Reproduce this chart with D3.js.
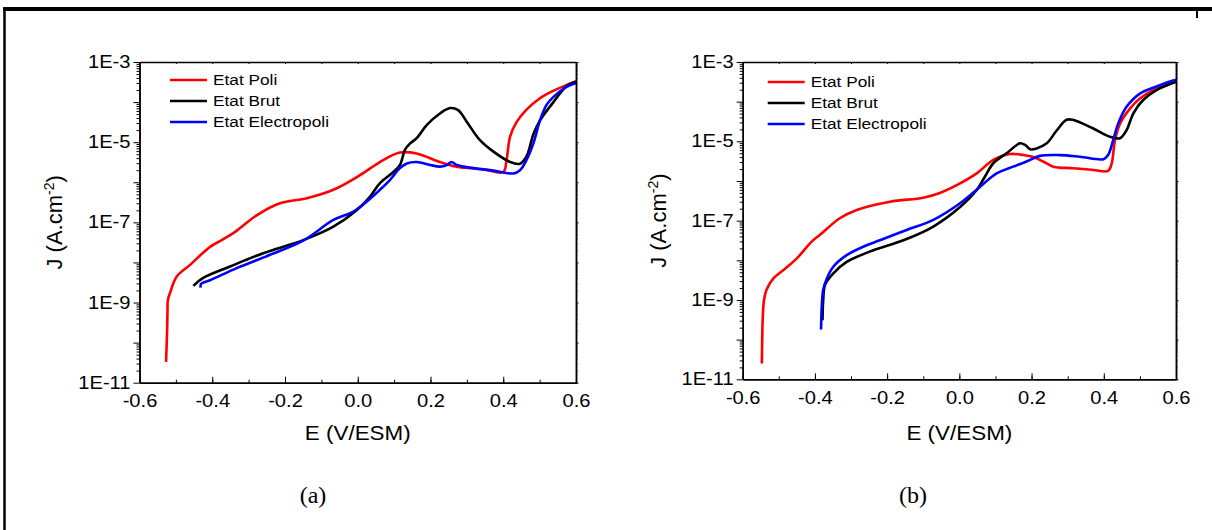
<!DOCTYPE html>
<html>
<head>
<meta charset="utf-8">
<script src="https://cdn.jsdelivr.net/npm/d3@7"></script>
<style>
  body { margin: 0; background: #fff; }
  svg text { font-family: "Liberation Sans", Arial, sans-serif; fill: #000; }
  .caption { font-family: "Liberation Serif", "Times New Roman", serif; }
</style>
</head>
<body>
<div id="chart"></div>
<script>
// series names and colours
var seriesNames = ["Etat Poli", "Etat Brut", "Etat Electropoli"];
var seriesColors = ["#ff0000", "#000000", "#0000ff"];

// x ticks (V/ESM) and y decades (A.cm-2)
var xMajor = [-0.6, -0.4, -0.2, 0.0, 0.2, 0.4, 0.6];
var xMinor = [-0.6, -0.5, -0.4, -0.3, -0.2, -0.1, 0.0, 0.1, 0.2, 0.3, 0.4, 0.5, 0.6];
var yDecades = [1e-11, 1e-10, 1e-9, 1e-8, 1e-7, 1e-6, 1e-5, 1e-4, 1e-3];
var yLabelled = [1e-11, 1e-9, 1e-7, 1e-5, 1e-3];

// panel (a) : [E, J]
var polA = [[-0.527,3.3e-11],[-0.524,2.1e-10],[-0.523,6.6e-10],[-0.522,1.15e-9],[-0.516,1.74e-9],
  [-0.498,4.4e-9],[-0.461,8.7e-9],[-0.406,2.45e-8],[-0.374,3.6e-8],[-0.337,5.8e-8],[-0.278,1.5e-7],
  [-0.214,3.0e-7],[-0.140,4.0e-7],[-0.067,6.5e-7],[0.006,1.5e-6],[0.061,3.2e-6],[0.116,5.5e-6],
  [0.162,5.2e-6],[0.226,3.2e-6],[0.272,2.45e-6],[0.345,2.1e-6],[0.400,1.8e-6],[0.409,3.6e-6],
  [0.419,1.4e-5],[0.437,3.2e-5],[0.464,6.5e-5],[0.501,1.25e-4],[0.537,1.9e-4],[0.574,2.65e-4],[0.600,3.3e-4]];
var brutA = [[-0.452,2.6e-9],[-0.425,4.1e-9],[-0.351,7.9e-9],[-0.260,1.7e-8],[-0.150,3.6e-8],
  [-0.067,7.8e-8],[-0.003,2.0e-7],[0.034,4.4e-7],[0.061,9.5e-7],[0.098,1.8e-6],[0.116,2.7e-6],
  [0.130,6.5e-6],[0.144,9.3e-6],[0.162,1.26e-5],[0.190,2.7e-5],[0.226,5.2e-5],[0.254,7.1e-5],
  [0.276,6.3e-5],[0.300,3.2e-5],[0.336,1.12e-5],[0.373,5.8e-6],[0.419,3.2e-6],[0.446,2.9e-6],
  [0.464,4.4e-6],[0.483,1.6e-5],[0.501,3.5e-5],[0.538,1.0e-4],[0.574,2.5e-4],[0.600,3.2e-4]];
var elecA = [[-0.432,2.35e-9],[-0.431,2.9e-9],[-0.423,3.2e-9],[-0.406,3.6e-9],[-0.333,7.2e-9],
  [-0.241,1.55e-8],[-0.150,3.5e-8],[-0.067,1.15e-7],[-0.012,1.86e-7],[0.025,3.3e-7],[0.061,6.5e-7],
  [0.089,1.15e-6],[0.116,2.25e-6],[0.135,2.95e-6],[0.162,3.2e-6],[0.199,2.7e-6],[0.226,2.45e-6],
  [0.245,2.7e-6],[0.258,3.2e-6],[0.272,2.7e-6],[0.318,2.25e-6],[0.373,1.95e-6],[0.428,1.66e-6],
  [0.446,2.0e-6],[0.464,3.6e-6],[0.483,9.5e-6],[0.501,3.5e-5],[0.519,8.5e-5],[0.538,1.35e-4],
  [0.574,2.4e-4],[0.600,3.0e-4]];

// panel (b) : [E, J]
var polB = [[-0.547,2.5e-11],[-0.546,9.8e-11],[-0.545,2.6e-10],[-0.541,1.0e-9],[-0.534,1.8e-9],
  [-0.515,3.5e-9],[-0.488,5.6e-9],[-0.450,1.12e-8],[-0.409,2.95e-8],[-0.386,4.4e-8],[-0.331,1.15e-7],
  [-0.284,1.86e-7],[-0.192,3.0e-7],[-0.100,3.8e-7],[-0.054,5.0e-7],[0.002,8.7e-7],[0.048,1.55e-6],
  [0.094,3.4e-6],[0.140,4.8e-6],[0.177,4.5e-6],[0.205,4.0e-6],[0.232,3.1e-6],[0.260,2.3e-6],
  [0.316,2.1e-6],[0.371,1.9e-6],[0.412,1.8e-6],[0.422,2.8e-6],[0.431,1.07e-5],[0.445,2.8e-5],
  [0.473,6.8e-5],[0.500,1.2e-4],[0.537,1.95e-4],[0.574,2.6e-4],[0.600,3.2e-4]];
var brutB = [[-0.379,3.1e-10],[-0.377,1.0e-9],[-0.372,2.4e-9],[-0.349,4.7e-9],[-0.312,9.1e-9],
  [-0.238,1.8e-8],[-0.155,3.2e-8],[-0.072,7.1e-8],[0.002,2.2e-7],[0.048,5.9e-7],[0.071,1.3e-6],
  [0.094,2.8e-6],[0.131,5.0e-6],[0.168,8.9e-6],[0.182,8.1e-6],[0.196,6.3e-6],[0.214,6.6e-6],
  [0.242,8.9e-6],[0.270,1.9e-5],[0.297,3.5e-5],[0.316,3.45e-5],[0.371,2.1e-5],[0.417,1.3e-5],
  [0.445,1.2e-5],[0.463,1.9e-5],[0.482,5.1e-5],[0.509,1.1e-4],[0.546,1.95e-4],[0.592,3.0e-4],[0.600,3.15e-4]];
var elecB = [[-0.383,1.8e-10],[-0.382,4.2e-10],[-0.381,6.8e-10],[-0.377,1.8e-9],[-0.367,3.5e-9],
  [-0.349,6.9e-9],[-0.312,1.35e-8],[-0.257,2.4e-8],[-0.220,3.2e-8],[-0.146,5.8e-8],[-0.072,1.05e-7],
  [0.002,2.75e-7],[0.057,7.1e-7],[0.103,1.55e-6],[0.149,2.3e-6],[0.186,3.1e-6],[0.223,4.3e-6],
  [0.279,4.5e-6],[0.334,4.1e-6],[0.399,3.55e-6],[0.412,4.5e-6],[0.426,1.07e-5],[0.440,2.8e-5],
  [0.463,7.4e-5],[0.500,1.6e-4],[0.546,2.4e-4],[0.592,3.4e-4],[0.600,3.5e-4]];

var panels = [
  { series: [polA, brutA, elecA], left: 139.5, right: 576, top: 62, bottom: 382.7,
    legendX: 170, legendY: 80, ytitleX: 55, caption: "(a)", captionX: 313 },
  { series: [polB, brutB, elecB], left: 742.7, right: 1176, top: 62, bottom: 379.3,
    legendX: 767.7, legendY: 82, ytitleX: 659, caption: "(b)", captionX: 913 }
];

// the source picture is a little wider than tall, so sans text is stretched
var stretch = 1.15;

function yMinorValues() {
  var v = [];
  for (var e = -11; e < -3; e++) {
    for (var k = 2; k <= 9; k++) v.push(k * Math.pow(10, e));
  }
  return v;
}

function stretchText(sel) {
  sel.each(function() {
    var t = d3.select(this);
    var x = +t.attr("x") || 0, y = +t.attr("y") || 0;
    t.attr("x", 0).attr("y", 0)
     .attr("transform", "translate(" + x + "," + y + ") scale(" + stretch + ",1)");
  });
}

function init() {
  var w = 1212, h = 530;
  var svg = d3.select("#chart").append("svg").attr("width", w).attr("height", h);

  // outer frame
  svg.append("line").attr("x1", 3).attr("x2", 1212).attr("y1", 9).attr("y2", 9)
     .attr("stroke", "#000").attr("stroke-width", 4);
  svg.append("line").attr("x1", 4.5).attr("x2", 4.5).attr("y1", 7).attr("y2", 530)
     .attr("stroke", "#000").attr("stroke-width", 2.5);
  svg.append("line").attr("x1", 1197).attr("x2", 1197).attr("y1", 7).attr("y2", 18)
     .attr("stroke", "#000").attr("stroke-width", 2);

  panels.forEach(function(p) {
    var xScale = d3.scaleLinear().domain([-0.6, 0.6]).range([p.left, p.right]);
    var yScale = d3.scaleLog().domain([1e-11, 1e-3]).range([p.bottom, p.top]);

    var g = svg.append("g");

    // curves
    var line = d3.line()
      .x(function(d) { return xScale(d[0]); })
      .y(function(d) { return yScale(d[1]); })
      .curve(d3.curveCatmullRom.alpha(0.5));

    p.series.forEach(function(s, i) {
      g.append("path").datum(s)
        .attr("d", line)
        .attr("fill", "none")
        .attr("stroke", seriesColors[i])
        .attr("stroke-width", 2.6)
        .attr("stroke-linejoin", "round");
    });

    // axes
    function styleAxis(sel) {
      sel.selectAll("path.domain").attr("stroke", "#000").attr("stroke-width", 1.5);
      sel.selectAll(".tick line").attr("stroke", "#000").attr("stroke-width", 1);
      sel.selectAll(".tick text").style("font-size", "17.5px").attr("fill", "#000");
    }

    var gx = g.append("g").attr("transform", "translate(0," + p.bottom + ")")
      .call(d3.axisBottom(xScale).tickValues(xMajor).tickSize(-6).tickSizeOuter(0).tickPadding(12)
        .tickFormat(function(d) { return d3.format(".1f")(d).replace("−", "-"); }));
    styleAxis(gx);
    stretchText(gx.selectAll(".tick text"));
    var gxm = g.append("g").attr("transform", "translate(0," + p.bottom + ")")
      .call(d3.axisBottom(xScale).tickValues(xMinor).tickSize(-3).tickSizeOuter(0).tickFormat(""));
    styleAxis(gxm);

    var gt = g.append("g").attr("transform", "translate(0," + p.top + ")")
      .call(d3.axisTop(xScale).tickValues(xMinor).tickSize(-2).tickSizeOuter(0).tickFormat(""));
    styleAxis(gt);

    var gy = g.append("g").attr("transform", "translate(" + p.left + ",0)")
      .call(d3.axisLeft(yScale).tickValues(yDecades).tickSize(6).tickSizeOuter(0).tickPadding(3)
        .tickFormat(function(d) {
          var e = Math.round(Math.log10(d));
          return yLabelled.indexOf(d) >= 0 ? "1E" + e : "";
        }));
    styleAxis(gy);
    stretchText(gy.selectAll(".tick text"));
    var gym = g.append("g").attr("transform", "translate(" + p.left + ",0)")
      .call(d3.axisLeft(yScale).tickValues(yMinorValues()).tickSize(3).tickSizeOuter(0).tickFormat(""));
    styleAxis(gym);

    var gr = g.append("g").attr("transform", "translate(" + p.right + ",0)")
      .call(d3.axisRight(yScale).tickValues(yDecades).tickSize(2.5).tickSizeOuter(0).tickFormat(""));
    styleAxis(gr);
    var grm = g.append("g").attr("transform", "translate(" + p.right + ",0)")
      .call(d3.axisRight(yScale).tickValues(yMinorValues()).tickSize(1.5).tickSizeOuter(0).tickFormat(""));
    styleAxis(grm);

    // axis titles
    var xt = g.append("text")
      .attr("x", (p.left + p.right) / 2).attr("y", 440)
      .attr("text-anchor", "middle").style("font-size", "19.5px")
      .text("E (V/ESM)");
    stretchText(xt);

    var yt = g.append("text")
      .attr("transform", "translate(" + (p.ytitleX + 7) + "," + ((p.top + p.bottom) / 2) + ") rotate(-90)")
      .attr("text-anchor", "middle").style("font-size", "22px");
    yt.append("tspan").text("J (A.cm");
    yt.append("tspan").attr("dy", -8).style("font-size", "14px").text("-2");
    yt.append("tspan").attr("dy", 8).text(")");

    // legend
    seriesNames.forEach(function(name, i) {
      var ly = p.legendY + i * 21;
      g.append("line")
        .attr("x1", p.legendX).attr("x2", p.legendX + 37)
        .attr("y1", ly).attr("y2", ly)
        .attr("stroke", seriesColors[i]).attr("stroke-width", 2.6);
      var lt = g.append("text")
        .attr("x", p.legendX + 43).attr("y", ly + 5)
        .style("font-size", "15px")
        .text(name);
      stretchText(lt);
    });

    // caption
    g.append("text").attr("class", "caption")
      .attr("x", p.captionX).attr("y", 503)
      .attr("text-anchor", "middle").style("font-size", "24px")
      .text(p.caption);
  });
}

window.onload = init;
</script>
</body>
</html>
